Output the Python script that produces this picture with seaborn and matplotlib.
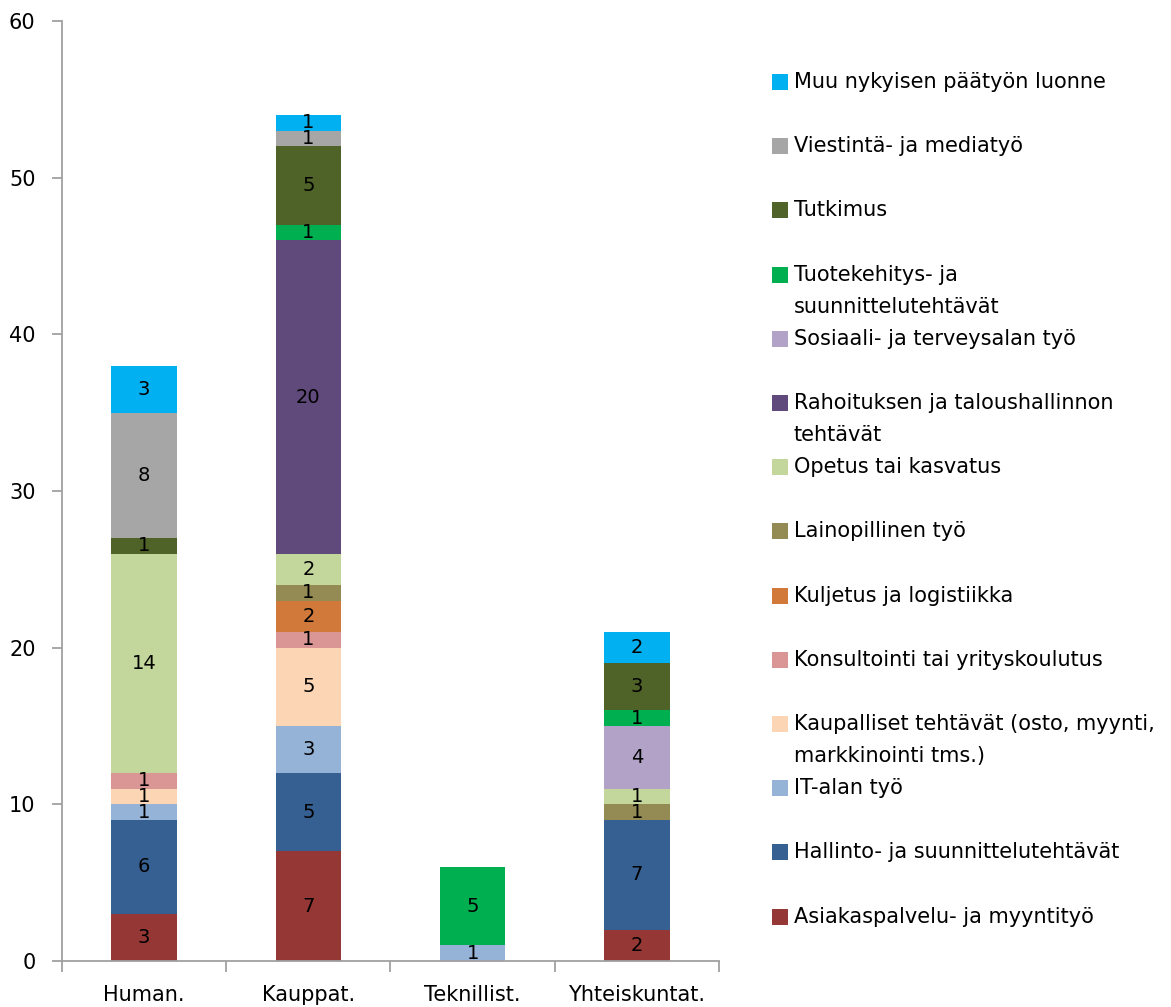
import numpy as np
import pandas as pd
import matplotlib
matplotlib.use("Agg")
import matplotlib.pyplot as plt
from matplotlib.patches import Rectangle
import seaborn as sns

categories = ["Human.", "Kauppat.", "Teknillist.", "Yhteiskuntat."]

# series listed from top of stack (legend top) to bottom
series = [
    "Muu nykyisen päätyön luonne",
    "Viestintä- ja mediatyö",
    "Tutkimus",
    "Tuotekehitys- ja\nsuunnittelutehtävät",
    "Sosiaali- ja terveysalan työ",
    "Rahoituksen ja taloushallinnon\ntehtävät",
    "Opetus tai kasvatus",
    "Lainopillinen työ",
    "Kuljetus ja logistiikka",
    "Konsultointi tai yrityskoulutus",
    "Kaupalliset tehtävät (osto, myynti,\nmarkkinointi tms.)",
    "IT-alan työ",
    "Hallinto- ja suunnittelutehtävät",
    "Asiakaspalvelu- ja myyntityö",
]

muu          = [3, 1, 0, 2]
viestinta    = [8, 1, 0, 0]
tutkimus     = [1, 5, 0, 3]
tuotekehitys = [0, 1, 5, 1]
sosiaali     = [0, 0, 0, 4]
rahoitus     = [0, 20, 0, 0]
opetus       = [14, 2, 0, 1]
lainopill    = [0, 1, 0, 1]
kuljetus     = [0, 2, 0, 0]
konsultointi = [1, 1, 0, 0]
kaupalliset  = [1, 5, 0, 0]
it_ala       = [1, 3, 1, 0]
hallinto     = [6, 5, 0, 7]
asiakaspalv  = [3, 7, 0, 2]

values = [muu, viestinta, tutkimus, tuotekehitys, sosiaali, rahoitus, opetus,
          lainopill, kuljetus, konsultointi, kaupalliset, it_ala, hallinto, asiakaspalv]

colors = ["#00B0F0", "#A6A6A6", "#4F6228", "#00B050", "#B3A2C7", "#604A7B",
          "#C3D69B", "#948A54", "#D0793A", "#D99694", "#FCD5B5", "#95B3D7",
          "#376092", "#953735"]

y_ticks = [0, 10, 20, 30, 40, 50, 60]

rows = []
for s, vals in zip(series, values):
    for c, v in zip(categories, vals):
        rows.append({"cat": c, "series": s, "value": v})
df = pd.DataFrame(rows)
df["cat"] = pd.Categorical(df["cat"], categories=categories, ordered=True)

sns.set_style("white")
plt.rcParams["font.family"] = ["DejaVu Sans"]

W, H = 1171, 1007
fig = plt.figure(figsize=(W / 100, H / 100), dpi=100)
ax = fig.add_axes([62 / W, 1 - 961 / H, (719 - 62) / W, (961 - 21) / H])

sns.histplot(data=df, x="cat", hue="series", weights="value", hue_order=series,
             multiple="stack", discrete=True, shrink=0.4, palette=colors,
             alpha=1, linewidth=0, legend=False, ax=ax)

# value labels in the centre of each segment
for cont in ax.containers:
    heights = [p.get_height() for p in cont.patches]
    labels = [f"{int(round(h))}" if h > 0 else "" for h in heights]
    ax.bar_label(cont, labels=labels, label_type="center", fontsize=14, color="black")

ax.set_xlim(-0.5, 3.5)
ax.set_ylim(0, 60)
ax.set_yticks(y_ticks)
ax.set_xticks(range(len(categories)))
ax.set_xticklabels(categories)
ax.set_xticks(np.arange(-0.5, len(categories), 1.0), minor=True)
ax.set_xlabel("")
ax.set_ylabel("")

for side in ["top", "right"]:
    ax.spines[side].set_visible(False)
for side in ["left", "bottom"]:
    ax.spines[side].set_color("#A0A0A0")
    ax.spines[side].set_linewidth(1.3)

ax.tick_params(axis="y", which="major", length=7, width=1.3, color="#A0A0A0",
               direction="out", labelsize=15, pad=12, left=True, labelcolor="black")
ax.tick_params(axis="x", which="major", length=0, labelsize=15, pad=17, labelcolor="black")
ax.tick_params(axis="x", which="minor", length=8, width=1.3, color="#A0A0A0",
               direction="out", bottom=True)

# manual legend on the right (Excel style)
y0 = 82
step = 64.2
sq = 16
for i, (s, col) in enumerate(zip(series, colors)):
    yc = y0 + i * step
    fig.add_artist(Rectangle((772 / W, 1 - (yc + sq / 2) / H), sq / W, sq / H,
                             transform=fig.transFigure, facecolor=col, edgecolor="none"))
    for j, line in enumerate(s.split("\n")):
        fig.text(794 / W, 1 - (yc + j * 32) / H, line, fontsize=15,
                 va="center", ha="left", color="black")

fig.savefig("out.png", dpi=100)
